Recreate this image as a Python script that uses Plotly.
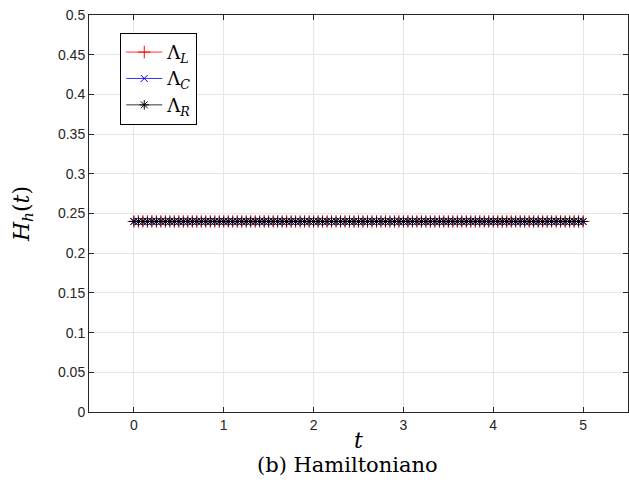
import plotly.graph_objects as go

# time samples (step 0.05 from 0 to 5)
t = [i / 20 for i in range(101)]
# Hamiltonian values (constant)
H_L = [0.24] * 101
H_C = [0.24] * 101
H_R = [0.24] * 101

series_names = ["Λ<i><sub>L</sub></i>", "Λ<i><sub>C</sub></i>", "Λ<i><sub>R</sub></i>"]
x_ticks = [0, 1, 2, 3, 4, 5]
y_ticks = [0, 0.05, 0.1, 0.15, 0.2, 0.25, 0.3, 0.35, 0.4, 0.45, 0.5]
y_tick_text = ["0", "0.05", "0.1", "0.15", "0.2", "0.25", "0.3", "0.35", "0.4", "0.45", "0.5"]

fig = go.Figure()
fig.add_trace(go.Scatter(x=t, y=H_L, mode="lines+markers", name=series_names[0],
                         line=dict(color="#ff0000", width=0.8),
                         marker=dict(symbol="cross-thin-open", size=9,
                                     line=dict(color="#ff0000", width=1))))
fig.add_trace(go.Scatter(x=t, y=H_C, mode="lines+markers", name=series_names[1],
                         line=dict(color="#0000ff", width=0.8),
                         marker=dict(symbol="x-thin-open", size=7,
                                     line=dict(color="#0000ff", width=1))))
fig.add_trace(go.Scatter(x=t, y=H_R, mode="lines+markers", name=series_names[2],
                         line=dict(color="#000000", width=0.8),
                         marker=dict(symbol="asterisk-open", size=8,
                                     line=dict(color="#000000", width=1))))

axis_common = dict(showline=True, linecolor="#262626", linewidth=1, mirror="ticks",
                   ticks="inside", ticklen=5, tickcolor="#262626",
                   showgrid=True, gridcolor="#e6e6e6", gridwidth=1, zeroline=False,
                   tickfont=dict(family="Liberation Sans, Arial", size=14, color="#262626"))

fig.update_xaxes(range=[-0.5, 5.5], tickvals=x_ticks, **axis_common,
                 title=dict(text="<i>t</i>", font=dict(family="DejaVu Serif", size=22, color="#000"),
                            standoff=0))
fig.update_yaxes(range=[0, 0.5], tickvals=y_ticks, ticktext=y_tick_text, **axis_common,
                 title=dict(text="<i>H<sub>h</sub></i>(<i>t</i>)",
                            font=dict(family="DejaVu Serif", size=22, color="#000"),
                            standoff=22))

fig.update_layout(
    width=629, height=485,
    margin=dict(l=89, r=1, t=15, b=73),
    paper_bgcolor="white", plot_bgcolor="white",
    showlegend=True,
    legend=dict(x=0.058, y=0.955, xanchor="left", yanchor="top",
                bgcolor="white", bordercolor="#000000", borderwidth=1,
                font=dict(family="DejaVu Serif", size=18, color="#000"),
                itemwidth=36, tracegroupgap=0),
    annotations=[dict(text="(b) Hamiltoniano", xref="paper", yref="paper",
                      x=0.479, y=-0.134, xanchor="center", yanchor="middle",
                      showarrow=False,
                      font=dict(family="DejaVu Serif", size=21, color="#000"))],
)

fig.write_html("out.html")
